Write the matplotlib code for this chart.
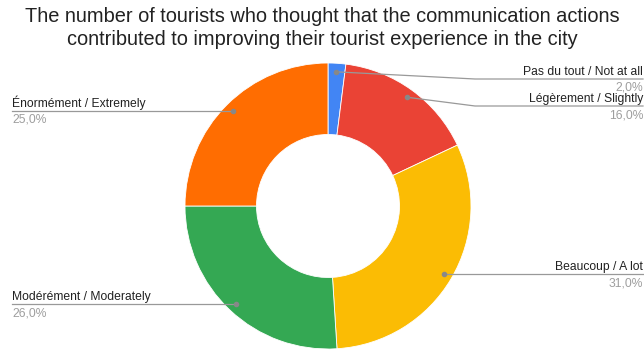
import matplotlib.pyplot as plt
import numpy as np

plt.rcParams['font.family'] = ['Liberation Sans', 'DejaVu Sans']

# data
labels = ['Pas du tout / Not at all', 'Légèrement / Slightly', 'Beaucoup / A lot',
          'Modérément / Moderately', 'Énormément / Extremely']
values = [2.0, 16.0, 31.0, 26.0, 25.0]
colors = ['#4285F4', '#EA4335', '#FBBC04', '#34A853', '#FF6D01']

W, H = 644, 350
fig = plt.figure(figsize=(W / 100, H / 100), dpi=100)
ax = fig.add_axes([0, 0, 1, 1])

# pixel coords measured from the top, converted to y-up
cx, cy, R = 328, H - 206, 143
wedges, _ = ax.pie(values, colors=colors, startangle=90, counterclock=False,
                   center=(cx, cy), radius=R, frame=True,
                   wedgeprops=dict(width=R * 0.5, edgecolor='white', linewidth=0.6))
ax.set_xlim(0, W)
ax.set_ylim(0, H)
ax.set_aspect('equal')
ax.axis('off')

title_col = '#222222'
fig.text(0.5, 1 - 22 / H, 'The number of tourists who thought that the communication actions',
         ha='center', va='baseline', fontsize=14.4, color=title_col)
fig.text(0.5, 1 - 45 / H, 'contributed to improving their tourist experience in the city',
         ha='center', va='baseline', fontsize=14.4, color=title_col)

# label layout: (side, line y from top, elbow x)
layout = [('right', 79, 475), ('right', 106, 475), ('right', 274, None),
          ('left', 304, None), ('left', 111, None)]

line_col = '#999999'
for w, lab, val, (side, ly, ex) in zip(wedges, labels, values, layout):
    mid = np.deg2rad((w.theta1 + w.theta2) / 2)
    dx = cx + 0.94 * R * np.cos(mid)
    dy = cy + 0.94 * R * np.sin(mid)
    ly = H - ly
    ax.plot(dx, dy, 'o', color='#888888', markersize=3, zorder=5)
    pct = f'{val:.1f}%'.replace('.', ',')
    if side == 'right':
        xe = 643
        if ex is None:
            ax.plot([dx, xe], [ly, ly], color=line_col, lw=0.9, zorder=4)
        else:
            ax.plot([dx, ex, xe], [dy, ly, ly], color=line_col, lw=0.9, zorder=4)
        ha = 'right'
    else:
        xe = 12
        ax.plot([xe, dx], [ly, ly], color=line_col, lw=0.9, zorder=4)
        ha = 'left'
    ax.text(xe, ly + 4, lab, ha=ha, va='baseline', fontsize=8.7, color='#222222')
    ax.text(xe, ly - 3, pct, ha=ha, va='top', fontsize=8.7, color='#9e9e9e')

fig.savefig('out.png', dpi=100)
